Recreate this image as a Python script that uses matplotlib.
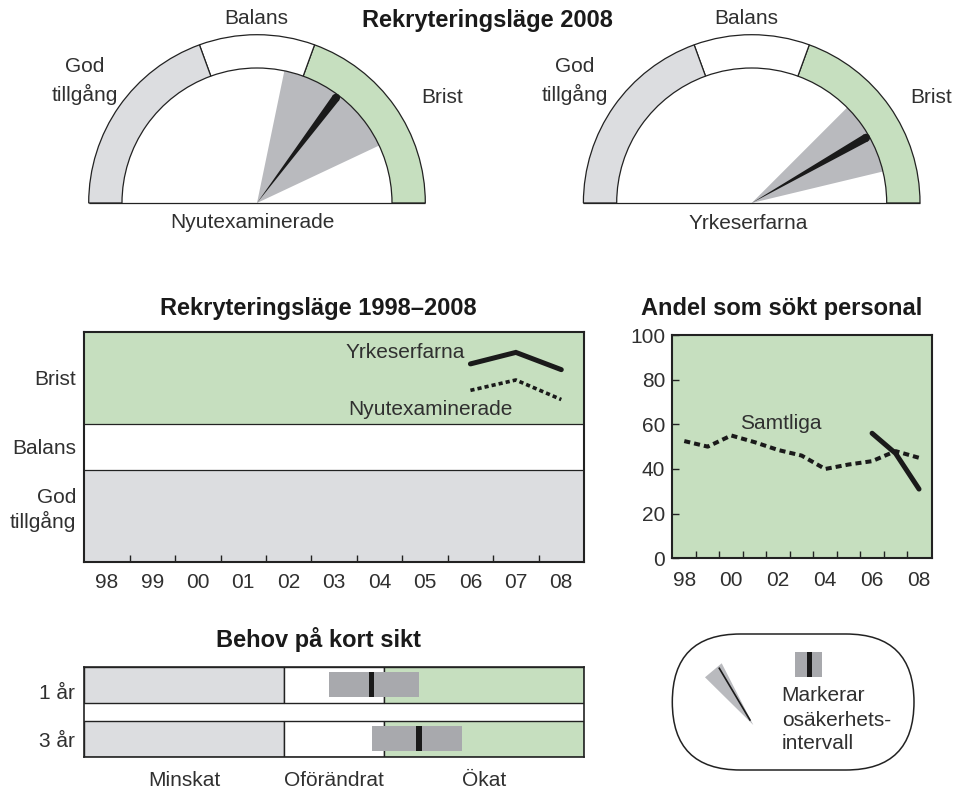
import numpy as np
import matplotlib
matplotlib.use('Agg')
import matplotlib.pyplot as plt
from matplotlib.patches import Wedge, Polygon, Circle, Rectangle, FancyBboxPatch

plt.rcParams['font.family'] = ['Liberation Sans', 'DejaVu Sans']

# --- data ---------------------------------------------------------------
years = ['98', '99', '00', '01', '02', '03', '04', '05', '06', '07', '08']

# rekryteringsläge, index -1 (god tillgång) .. 1 (brist)
lage_ar = ['06', '07', '08']
lage_yrkes = [0.72, 0.82, 0.67]
lage_nyut = [0.49, 0.58, 0.41]
osakerhet_nyut = [0.13, 0.72]
osakerhet_yrkes = [0.50, 0.85]
lage_kategorier = ['Brist', 'Balans', 'God\ntillgång']

# andel som sökt personal, procent
samtliga = [52.5, 50, 55, 52, 48.5, 46, 40, 42, 43.5, 48, 45]
sokt_ar = ['06', '07', '08']
sokt_yrke = [56, 47, 31]

# behov på kort sikt, index -1 (minskat) .. 1 (ökat)
behov_rader = ['1 år', '3 år']
behov_varde = [0.15, 0.34]
behov_lag = [-0.02, 0.15]
behov_hog = [0.34, 0.51]
behov_kategorier = ['Minskat', 'Oförändrat', 'Ökat']

# --- style ----------------------------------------------------------------
GREEN = '#c6dfbf'
GRAY = '#dcdde0'
WEDGE_GRAY = '#b9babe'
MARK_GRAY = '#a8a9ad'
EDGE = '#222222'
INK = '#1a1a1a'
TXT = '#303030'
FS = 15
TFS = 17

W, H = 967, 790
fig = plt.figure(figsize=(W / 100, H / 100), dpi=100)


def px_axes(x0, y0, x1, y1):
    return fig.add_axes([x0 / W, 1 - y1 / H, (x1 - x0) / W, (y1 - y0) / H])


def ftext(x, y, s, **kw):
    kw.setdefault('color', TXT)
    kw.setdefault('fontsize', FS)
    kw.setdefault('ha', 'center')
    kw.setdefault('va', 'baseline')
    fig.text(x / W, 1 - y / H, s, **kw)


def vinkel(v):
    return 90 - 90 * v


def gauge(cx, value, low, high):
    R = 168.3
    ax = px_axes(cx - 172, 30, cx + 172, 206)
    ax.set_xlim(-172 / R, 172 / R)
    ax.set_ylim(-3 / R, 173 / R)
    ax.axis('off')
    rin = 135 / R
    ax.add_patch(Wedge((0, 0), rin, vinkel(high), vinkel(low),
                       fc=WEDGE_GRAY, ec='none', zorder=1))
    for t1, t2, c in [(0, 70, GREEN), (70, 110, 'white'), (110, 180, GRAY)]:
        ax.add_patch(Wedge((0, 0), 1, t1, t2, width=1 - rin,
                           fc=c, ec=EDGE, lw=0.9, zorder=2))
    a = np.radians(vinkel(value))
    d = np.array([np.cos(a), np.sin(a)])
    tip = d * rin * 0.975
    perp = np.array([-d[1], d[0]]) * 0.024
    ax.add_patch(Polygon([(0, 0), tip + perp, tip - perp], closed=True,
                         fc=INK, ec='none', zorder=3))
    ax.add_patch(Circle(tip, 0.024, fc=INK, ec='none', zorder=3))
    ax.plot([-1, 1], [0, 0], color=EDGE, lw=0.9, zorder=4, solid_capstyle='butt')


# --- gauges 2008 ----------------------------------------------------------
gauge(257.0, lage_nyut[-1], *osakerhet_nyut)
gauge(751.7, lage_yrkes[-1], *osakerhet_yrkes)

ftext(487.5, 26.5, 'Rekryteringsläge 2008', fontsize=TFS, fontweight='bold', color=INK)
for cx, gx, bx, namn in [(256.7, 84.5, 442.5, 'Nyutexaminerade'),
                         (746.7, 575, 931, 'Yrkeserfarna')]:
    ftext(cx, 24, 'Balans')
    ftext(gx, 71.7, 'God')
    ftext(gx, 101, 'tillgång')
    ftext(bx, 102.7, 'Brist')
ftext(252.5, 228.3, 'Nyutexaminerade')
ftext(748.3, 229, 'Yrkeserfarna')

# --- rekryteringsläge 1998-2008 ------------------------------------------
ax1 = px_axes(84.3, 331.7, 584, 561.7)
ax1.set_xlim(-0.5, 10.5)
ax1.set_ylim(-1, 1)
ax1.axhspan(0.2, 1, color=GREEN, zorder=0, lw=0)
ax1.axhspan(-0.2, 0.2, color='white', zorder=0, lw=0)
ax1.axhspan(-1, -0.2, color=GRAY, zorder=0, lw=0)
ax1.axhline(0.2, color=EDGE, lw=0.9)
ax1.axhline(-0.2, color=EDGE, lw=0.9)
xl = [years.index(y) for y in lage_ar]
ax1.plot(xl, lage_yrkes, color=INK, lw=3.6, solid_capstyle='round', solid_joinstyle='miter')
ax1.plot(xl, lage_nyut, color=INK, lw=2.6, linestyle=(0, (1.15, 0.85)), dash_capstyle='butt')
ax1.text(6.57, 0.769, 'Yrkeserfarna', ha='center', va='baseline', fontsize=FS, color=TXT)
ax1.text(7.12, 0.276, 'Nyutexaminerade', ha='center', va='baseline', fontsize=FS, color=TXT)
ax1.set_xticks(range(len(years)))
ax1.set_xticklabels(years)
ax1.set_xticks(np.arange(0.5, len(years) - 1, 1), minor=True)
ax1.tick_params(axis='x', which='major', length=0, pad=8, labelsize=FS, labelcolor=TXT)
ax1.tick_params(axis='x', which='minor', direction='in', length=5, width=1, color=EDGE)
ax1.set_yticks([0.6, 0.0, -0.52])
ax1.set_yticklabels(lage_kategorier, multialignment='right')
ax1.tick_params(axis='y', length=0, pad=6, labelsize=FS, labelcolor=TXT)
for s in ax1.spines.values():
    s.set_linewidth(1.5)
    s.set_color(EDGE)
ftext(318.4, 315, 'Rekryteringsläge 1998–2008', fontsize=TFS, fontweight='bold', color=INK)

# --- andel som sökt personal ---------------------------------------------
ax2 = px_axes(672.3, 335, 931.7, 558.3)
ax2.set_facecolor(GREEN)
ax2.set_xlim(-0.51, 10.54)
ax2.set_ylim(0, 100)
ax2.plot(range(len(years)), samtliga, color=INK, lw=2.9,
         linestyle=(0, (1.5, 1.0)), dash_capstyle='butt')
ax2.plot([years.index(y) for y in sokt_ar], sokt_yrke, color=INK, lw=3.6,
         solid_capstyle='round')
ax2.text(4.1, 57.8, 'Samtliga', ha='center', va='baseline', fontsize=FS, color=TXT)
ax2.set_xticks(range(0, len(years), 2))
ax2.set_xticklabels(years[::2])
ax2.set_xticks(np.arange(0.5, len(years) - 1, 1), minor=True)
ax2.tick_params(axis='x', which='major', length=0, pad=9.5, labelsize=FS, labelcolor=TXT)
ax2.tick_params(axis='x', which='minor', direction='in', length=5, width=1, color=EDGE)
ax2.set_yticks(range(0, 101, 20))
ax2.tick_params(axis='y', direction='in', length=5, width=1, color=EDGE, pad=5,
                labelsize=FS, labelcolor=TXT)
for s in ax2.spines.values():
    s.set_linewidth(1.5)
    s.set_color(EDGE)
ftext(781.7, 315, 'Andel som sökt personal', fontsize=TFS, fontweight='bold', color=INK)

# --- behov på kort sikt ---------------------------------------------------
ax3 = px_axes(84.3, 666.7, 584, 756.7)
ax3.set_xlim(-1, 1)
ax3.set_ylim(0, 5)
grans = [-1, -0.2, 0.2, 1]
farger = [GRAY, 'white', GREEN]
rad_y = [4, 1]
for yc, v, lo, hi in zip(rad_y, behov_varde, behov_lag, behov_hog):
    for i in range(3):
        ax3.barh(yc, grans[i + 1] - grans[i], left=grans[i], height=2,
                 color=farger[i], edgecolor=EDGE, lw=1, zorder=1)
    ax3.barh(yc, hi - lo, left=lo, height=1.39, color=MARK_GRAY, lw=0, zorder=3)
    ax3.barh(yc, 0.022, left=v - 0.011, height=1.39, color=INK, lw=0, zorder=4)
ax3.set_xticks([-0.6, 0, 0.6])
ax3.set_xticklabels(behov_kategorier)
ax3.tick_params(axis='x', length=0, pad=10, labelsize=FS, labelcolor=TXT)
ax3.set_yticks([3.62, 0.95])
ax3.set_yticklabels(behov_rader)
ax3.tick_params(axis='y', length=0, pad=6.5, labelsize=FS, labelcolor=TXT)
for s in ax3.spines.values():
    s.set_linewidth(1.2)
    s.set_color(EDGE)
ftext(318.5, 646.7, 'Behov på kort sikt', fontsize=TFS, fontweight='bold', color=INK)

# --- förklaring -----------------------------------------------------------
axl = px_axes(665, 628, 922, 776)
axl.set_xlim(665, 922)
axl.set_ylim(776, 628)
axl.axis('off')
axl.add_patch(FancyBboxPatch((672.3, 634), 241.7, 136,
                             boxstyle='round,pad=0,rounding_size=68',
                             fc='white', ec=EDGE, lw=1.1))
axl.add_patch(Polygon([(753.3, 725), (705, 677.3), (721.7, 663.3)], closed=True,
                      fc=WEDGE_GRAY, ec='none'))
axl.plot([719.3, 750], [668.3, 720], color=INK, lw=1.2)
axl.add_patch(Rectangle((795, 651.7), 26.7, 25, fc=MARK_GRAY, ec='none'))
axl.add_patch(Rectangle((806.5, 651.7), 5, 25, fc=INK, ec='none'))
for yy, rad in zip([700.8, 725.8, 749.2], ['Markerar', 'osäkerhets-', 'intervall']):
    ftext(781.7, yy, rad, ha='left')

fig.savefig('out.png', dpi=100)
